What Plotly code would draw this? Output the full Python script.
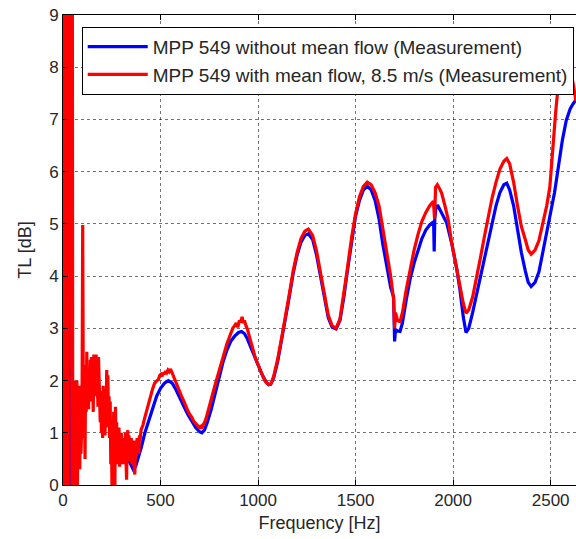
import plotly.graph_objects as go

# ---------------- data ----------------
blue_f = [0, 3, 6, 9, 12, 15, 18, 21, 24, 28,
          32, 36, 38, 40, 44, 48, 55, 65, 80, 100,
          120, 140, 165, 190, 220, 250, 280, 310, 340, 360,
          372, 385, 400, 420, 450, 480, 500, 520, 540, 560,
          580, 600, 620, 640, 660, 680, 700, 712, 725, 740,
          760, 780, 800, 820, 840, 860, 880, 900, 915, 930,
          945, 960, 980, 1000, 1020, 1040, 1055, 1065, 1080, 1100,
          1120, 1140, 1160, 1180, 1200, 1220, 1240, 1258, 1280, 1300,
          1320, 1340, 1360, 1380, 1400, 1420, 1440, 1460, 1480, 1500,
          1520, 1540, 1560, 1580, 1600, 1620, 1640, 1660, 1680, 1695,
          1700, 1705, 1715, 1728, 1740, 1760, 1780, 1800, 1820, 1840,
          1860, 1880, 1900, 1903, 1906, 1912, 1920, 1941, 1967, 1993,
          2005, 2018, 2035, 2052, 2066, 2080, 2100, 2120, 2140, 2160,
          2180, 2200, 2220, 2240, 2260, 2275, 2290, 2310, 2330, 2350,
          2370, 2385, 2400, 2420, 2440, 2460, 2480, 2500, 2520, 2540,
          2560, 2580, 2600, 2615, 2630]
blue_tl = [9.5, 1.0, 6.0, 0.3, 4.0, 0.5, 2.5, 0.0, 1.5, 3.0,
           0.2, 4.9, 0.0, 1.1, 0.0, 1.2, 0.4, 1.0, 0.9, 1.05,
           1.6, 1.75, 1.8, 1.6, 1.3, 1.0, 0.8, 0.6, 0.45, 0.3,
           0.35, 0.5, 0.7, 1.0, 1.35, 1.7, 1.85, 1.95, 2.0, 1.95,
           1.82, 1.65, 1.5, 1.35, 1.22, 1.1, 1.02, 1.0, 1.05, 1.2,
           1.45, 1.75, 2.05, 2.35, 2.58, 2.75, 2.85, 2.92, 2.94, 2.9,
           2.8, 2.65, 2.48, 2.3, 2.12, 1.98, 1.92, 1.93, 2.05, 2.35,
           2.75, 3.15, 3.6, 4.05, 4.4, 4.65, 4.78, 4.81, 4.7, 4.4,
           4.0, 3.55, 3.2, 3.02, 2.99, 3.15, 3.6, 4.15, 4.7, 5.15,
           5.45, 5.65, 5.72, 5.65, 5.45, 5.1, 4.6, 4.15, 3.78, 3.6,
           2.75, 2.98, 2.95, 2.94, 3.1, 3.55, 3.95, 4.25, 4.5, 4.72,
           4.88, 4.98, 5.04, 4.47, 5.1, 5.3, 5.36, 5.2, 5.02, 4.62,
           4.4, 4.15, 3.74, 3.22, 2.92, 3.0, 3.3, 3.65, 4.0, 4.35,
           4.7, 5.05, 5.35, 5.6, 5.75, 5.78, 5.65, 5.35, 4.9, 4.45,
           4.1, 3.88, 3.8, 3.88, 4.08, 4.45, 4.82, 5.2, 5.6, 6.1,
           6.6, 6.98, 7.2, 7.3, 7.38]

red_f = [0, 2, 4, 6, 8, 10, 12, 14, 16, 18,
         20, 22, 24, 26, 29, 32, 35, 38, 40, 42,
         44, 46, 48, 50, 53, 56, 59, 62, 65, 68,
         71, 74, 77, 80, 83, 86, 89, 92, 95, 98,
         101, 104, 107, 110, 113, 116, 119, 122, 125, 128,
         131, 134, 137, 140, 143, 146, 149, 152, 155, 158,
         161, 164, 167, 170, 173, 176, 179, 182, 185, 188,
         191, 194, 197, 200, 203, 206, 209, 212, 215, 218,
         221, 224, 227, 230, 233, 236, 239, 242, 245, 248,
         251, 254, 257, 260, 263, 266, 269, 272, 275, 278,
         281, 284, 287, 290, 293, 296, 299, 302, 305, 308,
         311, 314, 317, 320, 323, 326, 329, 332, 335, 338,
         341, 344, 347, 350, 353, 356, 359, 362, 365, 368,
         371, 374, 377, 380, 383, 386, 389, 392, 395,
         400, 410, 420, 430, 440, 450, 460, 470, 480, 490,
         496, 502, 508, 514, 520, 526, 532, 538, 544, 550,
         556, 562, 570, 580, 590, 600, 610, 620, 630, 640,
         650, 660, 670, 680, 690, 700, 706, 712, 718, 726,
         734, 742, 750, 760, 770, 780, 790, 800, 810, 820,
         830, 840, 850, 860, 870, 880, 888, 896, 904, 912,
         918, 924, 930, 938, 946, 955, 965, 975, 985, 995,
         1005, 1015, 1025, 1035, 1045, 1055, 1065, 1080, 1100, 1120,
         1140, 1160, 1180, 1200, 1220, 1240, 1258, 1280, 1300, 1320,
         1340, 1360, 1380, 1400, 1420, 1440, 1460, 1480, 1500, 1520,
         1540, 1560, 1580, 1600, 1620, 1640, 1660, 1680, 1695, 1700,
         1705, 1715, 1728, 1740, 1760, 1780, 1800, 1820, 1840, 1860,
         1880, 1899, 1905, 1910, 1919, 1930, 1941, 1958, 1975, 1990,
         2010, 2027, 2040, 2052, 2066, 2080, 2100, 2120, 2140, 2160,
         2180, 2200, 2220, 2240, 2260, 2275, 2290, 2310, 2330, 2350,
         2370, 2385, 2400, 2420, 2440, 2460, 2480, 2496, 2513, 2526,
         2539, 2555, 2575, 2595, 2610, 2620, 2630]
red_tl = [12, 0, 11, 0.5, 12, 0, 10, 1, 12, 0,
          11, 0.3, 12, 0, 9.5, 7.5, 9.8, 8, 12, 0,
          11, 0, 10, 0.2, 1.8, 0.3, 2.0, 0, 1.5, 0.8,
          2.0, 0, 1.2, 0.5, 1.9, 0.3, 1.4, 0.6, 1.0, 2.0,
          4.98, 1.6, 0.9, 1.7, 0.5, 2.3, 1.4, 2.55, 1.5, 2.0,
          1.45, 2.2, 1.6, 2.4, 1.8, 2.45, 1.6, 2.1, 1.4, 2.5,
          1.8, 2.3, 1.9, 2.5, 1.7, 2.2, 1.5, 2.45, 1.9, 2.1,
          1.2, 1.8, 1.0, 1.7, 0.9, 1.9, 1.4, 1.6, 0.95, 1.5,
          1.1, 2.2, 1.7, 2.1, 1.3, 1.7, 0.9, 1.6, 0.4, 1.2,
          0, 1.1, 0.6, 1.4, 0.3, 0, 1.5, 0.7, 1.2, 0.4,
          1.0, 0.6, 1.1, 0.35, 0.9, 0.5, 1.0, 0.4, 0.8, 0.55,
          0.9, 0.4, 0.7, 1.0, 0.5, 0.1, 0.8, 1.05, 0.6, 0.95,
          0.45, 0.8, 0.6, 0.9, 0.4, 0.7, 0.85, 0.5, 0.3, 0.2,
          0.6, 0.85, 0.55, 0.9, 0.7, 0.85, 0.6, 0.95, 0.85,
          1.05, 1.15, 1.3, 1.45, 1.6, 1.72, 1.85, 1.95, 2.0, 2.03,
          2.1, 2.12, 2.08, 2.15, 2.12, 2.18, 2.15, 2.2, 2.17, 2.22,
          2.18, 2.12, 2.05, 1.98, 1.88, 1.78, 1.68, 1.6, 1.5, 1.42,
          1.35, 1.3, 1.22, 1.18, 1.14, 1.1, 1.12, 1.08, 1.15, 1.2,
          1.28, 1.38, 1.5, 1.62, 1.78, 1.92, 2.05, 2.18, 2.35, 2.45,
          2.58, 2.7, 2.8, 2.9, 3.0, 3.05, 3.1, 3.02, 3.15, 3.12,
          3.22, 3.1, 3.15, 3.05, 2.98, 2.85, 2.7, 2.58, 2.45, 2.35,
          2.25, 2.15, 2.08, 2.0, 1.95, 1.93, 1.93, 2.08, 2.4, 2.8,
          3.2, 3.65, 4.1, 4.45, 4.72, 4.86, 4.9, 4.78, 4.48, 4.08,
          3.62, 3.25, 3.05, 3.0, 3.18, 3.65, 4.2, 4.75, 5.2, 5.52,
          5.72, 5.8, 5.75, 5.6, 5.35, 4.9, 4.45, 4.0, 3.55, 3.0,
          3.3, 3.15, 3.13, 3.3, 3.75, 4.15, 4.5, 4.8, 5.05, 5.22,
          5.35, 5.43, 5.1, 5.7, 5.75, 5.68, 5.59, 5.35, 5.08, 4.7,
          4.3, 3.99, 3.7, 3.48, 3.29, 3.35, 3.6, 3.95, 4.35, 4.75,
          5.15, 5.5, 5.8, 6.05, 6.2, 6.25, 6.15, 5.8, 5.35, 4.95,
          4.7, 4.5, 4.42, 4.5, 4.68, 5.0, 5.35, 5.71, 6.6, 7.15,
          7.65, 8.0, 8.2, 8.1, 7.8, 7.55, 7.35]

name_blue = "MPP 549 without mean flow (Measurement)"
name_red = "MPP 549 with mean flow, 8.5 m/s (Measurement)"

x_ticks = [0, 500, 1000, 1500, 2000, 2500]
y_ticks = [0, 1, 2, 3, 4, 5, 6, 7, 8, 9]

FONT = "Liberation Sans, Arial, sans-serif"

fig = go.Figure()
fig.add_trace(go.Scatter(x=blue_f, y=blue_tl, mode="lines", name=name_blue,
                         line=dict(color="#0000ff", width=3.2), legendgroup="a"))
fig.add_trace(go.Scatter(x=red_f, y=red_tl, mode="lines", name=name_red,
                         line=dict(color="#ff0000", width=3.2), legendgroup="b"))

axis_common = dict(
    showgrid=True, gridcolor="rgba(0,0,0,0.55)", griddash="dot", gridwidth=1,
    showline=True, linecolor="black", linewidth=1,
    ticks="inside", ticklen=5, tickcolor="black",
    zeroline=False, tickfont=dict(family=FONT, size=17, color="#262626"),
)

fig.update_layout(
    width=576, height=539,
    margin=dict(l=63, r=0, t=15, b=54),
    paper_bgcolor="white", plot_bgcolor="white",
    font=dict(family=FONT, color="#262626"),
    xaxis=dict(range=[0, 2630], tickvals=x_ticks, mirror="ticks",
               title=dict(text="Frequency [Hz]", font=dict(family=FONT, size=18), standoff=6),
               **axis_common),
    yaxis=dict(range=[0, 9], tickvals=y_ticks, mirror=False,
               title=dict(text="TL [dB]", font=dict(family=FONT, size=18), standoff=12),
               **axis_common),
    legend=dict(x=0.0365, y=0.975, xanchor="left", yanchor="top",
                bgcolor="white", bordercolor="black", borderwidth=1,
                font=dict(family=FONT, size=19, color="#262626"),
                itemwidth=60, tracegroupgap=4, traceorder="normal"),
    showlegend=True,
)

fig.write_html("out.html")
